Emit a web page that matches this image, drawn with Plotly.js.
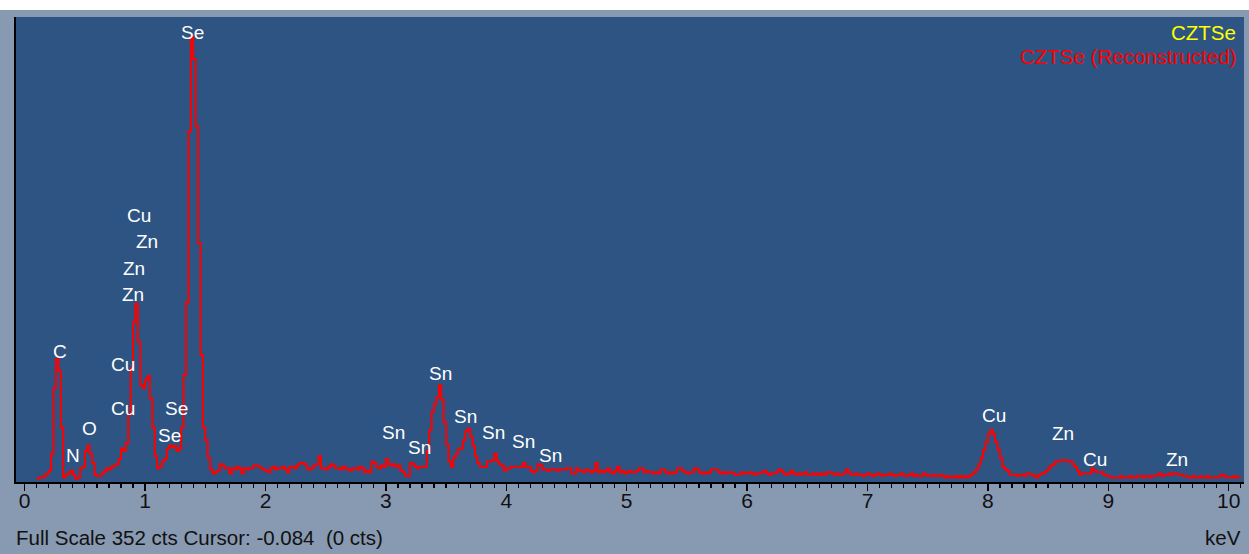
<!DOCTYPE html>
<html>
<head>
<meta charset="utf-8">
<script src="https://cdn.plot.ly/plotly-3.0.1.min.js"></script>
<style>
  html, body { margin: 0; padding: 0; background: #ffffff; width: 1249px; height: 554px; overflow: hidden; }
  #chart { position: absolute; left: 0; top: 10px; width: 1249px; height: 544px; }
</style>
</head>
<body>
<div id="chart"></div>
<script>
// EDS spectrum, counts per 0.02 keV channel, starting at 0.10 keV
const startEnergy = 0.10;
const channelWidth = 0.02;

// 0.10 - 1.98 keV
const countsLow = [
  1,2,2,3,5,7,20,70,92,83,
  40,2,4,5,7,4,1,2,9,10,
  22,26,20,13,4,3,3,5,7,9,
  8,10,11,12,16,24,22,28,50,85,
  120,134,105,72,70,76,79,62,40,18,
  9,10,14,16,24,26,25,26,22,24,
  40,80,135,265,337,320,269,180,95,40,
  30,17,8,5,6,7,12,11,9,9,
  5,9,8,10,9,5,9,8,9,9,
  11,11,10,9,8
];
// 2.00 - 3.98 keV
const countsSn = [
  7,6,9,10,8,9,9,10,8,6,
  10,10,9,11,13,13,12,9,8,9,
  11,12,18,9,9,8,10,12,11,9,
  9,8,10,9,8,7,9,9,8,10,
  9,6,7,6,14,13,10,9,11,10,
  16,12,11,12,10,11,7,6,3,3,
  13,12,10,9,10,10,10,22,38,52,
  58,63,72,61,44,27,14,10,17,20,
  24,24,30,37,39,33,26,18,13,10,
  10,10,14,14,15,20,14,12,11,7
];
// 4.00 - 5.98 keV
const countsMid = [
  9,9,10,10,10,10,10,13,10,10,
  7,6,7,12,11,8,8,7,8,8,
  8,7,8,8,8,9,9,5,5,9,
  7,7,6,8,7,6,7,13,6,7,
  6,7,9,6,5,7,10,6,7,5,
  6,7,6,6,7,9,9,6,7,6,
  6,5,6,5,8,8,6,5,6,5,
  6,9,9,7,6,5,6,6,9,8,
  6,5,6,5,6,8,8,8,6,5,
  6,5,6,6,5,4,4,5,6,5
];
// 6.00 - 7.98 keV
const countsHigh = [
  5,6,5,4,5,5,6,7,5,4,
  5,5,6,8,7,5,4,5,7,5,
  4,5,4,5,6,4,4,5,4,5,
  4,5,4,6,6,5,4,5,4,4,
  5,8,6,4,4,5,4,4,3,4,
  5,4,3,4,5,4,3,4,4,5,
  4,3,4,4,5,3,3,4,5,3,
  4,3,3,5,4,3,3,4,3,3,
  4,3,2,3,2,2,3,2,3,2,
  3,2,3,4,6,8,12,17,23,29
];
// 8.00 - 10.10 keV
const countsCuZn = [
  35,38,35,29,23,17,10,8,7,4,
  4,4,3,4,4,3,5,5,4,3,
  2,4,5,5,7,9,11,12,14,14,
  15,15,15,14,14,12,10,7,4,5,
  5,5,5,9,7,6,6,6,4,3,
  3,2,2,2,2,3,2,2,2,3,
  2,2,3,3,2,3,3,2,3,3,
  4,5,3,4,4,5,4,5,5,4,
  4,3,3,2,2,3,2,2,3,2,
  2,3,2,2,2,2,3,4,3,2,
  2,2,3,2,2,2
];
const counts = countsLow.concat(countsSn, countsMid, countsHigh, countsCuZn);

// Peak identification labels (energy keV, label height in counts)
const peakLabels = ["Se","Cu","Zn","Zn","Zn","C","Cu","O","N","Cu","Se","Se",
                    "Sn","Sn","Sn","Sn","Sn","Sn","Sn","Cu","Zn","Cu","Zn"];
const peakEnergy = [1.39,0.95,1.02,0.91,0.90,0.29,0.82,0.54,0.405,0.82,1.257,1.202,
                    3.45,3.06,3.277,3.665,3.897,4.14,4.37,8.05,8.62,8.89,9.57];
const peakHeight = [340,201,181,161,141,98,88,39,19,54,54.5,34,
                    81,36,25,48,36,29,19,49,35,15.5,15.5];

const tickVals = [0,1,2,3,4,5,6,7,8,9,10];
const tickText = ["0","1","2","3","4","5","6","7","8","9","10"];

const fontFamily = '"Liberation Sans", Arial, sans-serif';

const annotations = peakLabels.map((t, i) => ({
  x: peakEnergy[i], y: peakHeight[i], xref: 'x', yref: 'y',
  text: t, showarrow: false, xanchor: 'center', yanchor: 'middle',
  font: { family: fontFamily, size: 19, color: '#ffffff' }
}));
annotations.push(
  { xref: 'paper', yref: 'paper', x: 0.9951, y: 0.9677, xanchor: 'right', yanchor: 'middle',
    text: 'CZTSe', showarrow: false, font: { family: fontFamily, size: 20.5, color: '#ffff00' } },
  { xref: 'paper', yref: 'paper', x: 0.9951, y: 0.914, xanchor: 'right', yanchor: 'middle',
    text: 'CZTSe (Reconstructed)', showarrow: false, font: { family: fontFamily, size: 20.5, color: '#ff0000' } },
  { xref: 'paper', yref: 'paper', x: -0.0016, y: -0.1204, xanchor: 'left', yanchor: 'middle',
    text: 'Full Scale 352 cts Cursor: -0.084&nbsp;&nbsp;(0 cts)', showarrow: false,
    font: { family: fontFamily, size: 20.5, color: '#111111' } },
  { xref: 'paper', yref: 'paper', x: 0.9992, y: -0.1204, xanchor: 'right', yanchor: 'middle',
    text: 'keV', showarrow: false, font: { family: fontFamily, size: 20.5, color: '#111111' } }
);

const trace = {
  type: 'scatter', mode: 'lines',
  x0: startEnergy, dx: channelWidth, y: counts,
  line: { color: '#ff0000', width: 2, shape: 'hv' },
  hoverinfo: 'x+y', showlegend: false
};

const layout = {
  width: 1249, height: 544,
  margin: { l: 16, r: 5, t: 7, b: 72 },
  paper_bgcolor: '#8899b2',
  plot_bgcolor: '#2d5482',
  showlegend: false,
  xaxis: {
    range: [-0.072, 10.127],
    showgrid: false, zeroline: false,
    showline: true, linecolor: '#000000', linewidth: 2,
    ticks: 'outside', ticklen: 7, tickwidth: 1.5, tickcolor: '#000000',
    tickmode: 'array', tickvals: tickVals, ticktext: tickText,
    tickfont: { family: fontFamily, size: 21, color: '#111111' },
    ticklabelstandoff: -8,
    minor: { dtick: 0.1, ticks: 'outside', ticklen: 4, tickwidth: 1.2, tickcolor: '#000000', showgrid: false },
    fixedrange: true
  },
  yaxis: {
    range: [-1.5, 352],
    showgrid: false, zeroline: false,
    showline: true, linecolor: '#000000', linewidth: 2,
    showticklabels: false, ticks: '',
    fixedrange: true
  },
  annotations: annotations
};

Plotly.newPlot('chart', [trace], layout, { displayModeBar: false, staticPlot: true });
</script>
</body>
</html>
